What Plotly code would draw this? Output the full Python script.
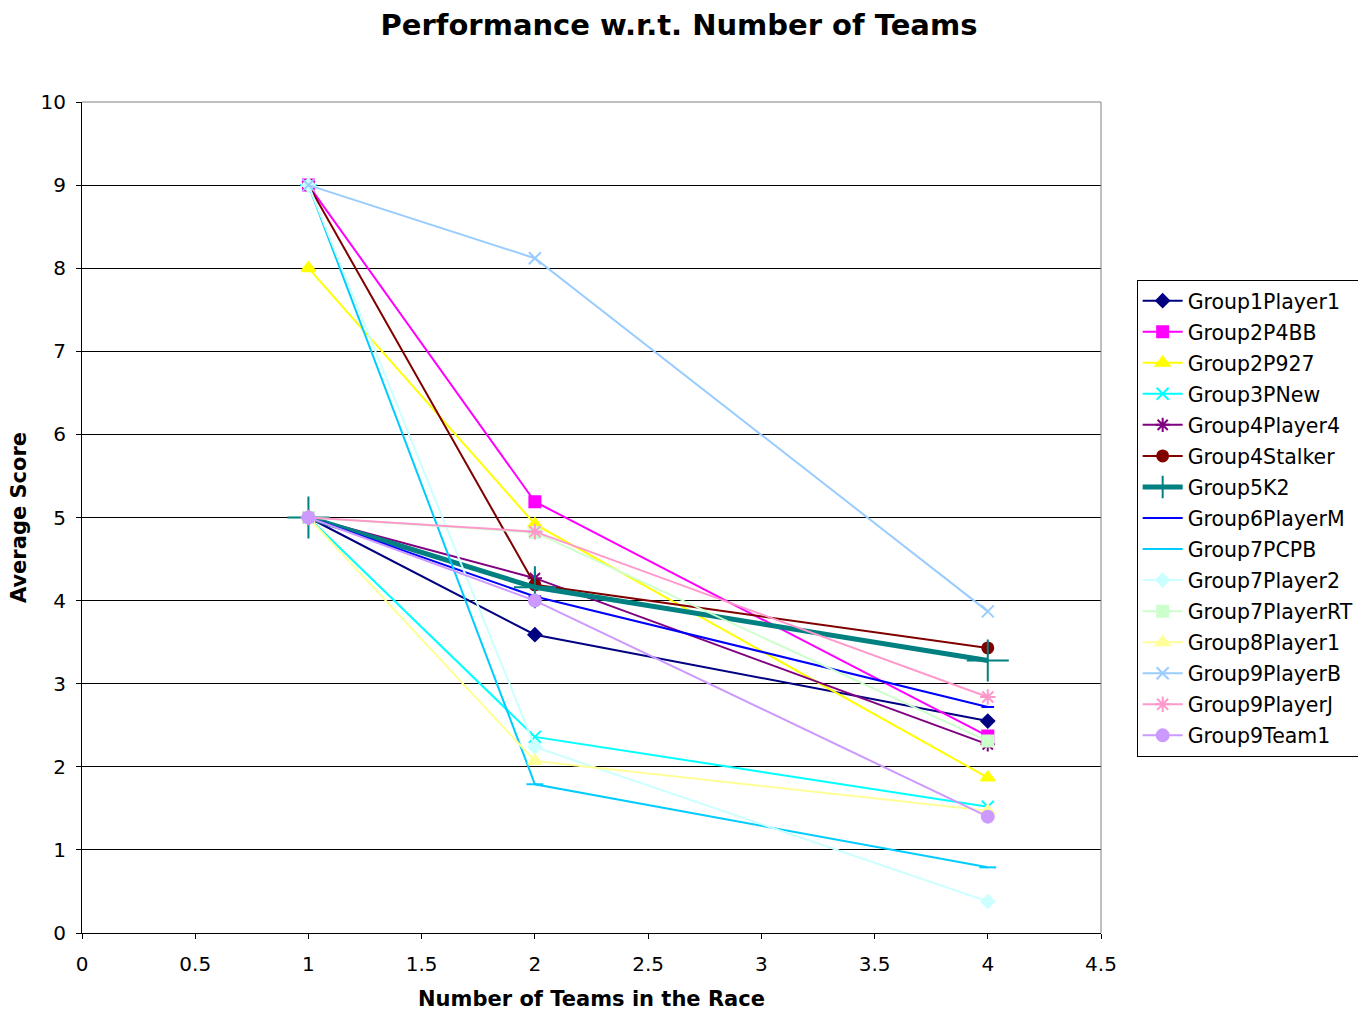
import plotly.graph_objects as go

# Number of teams in the race (x) and average score per group bot
teams = [1, 2, 4]

names = [
    "Group1Player1", "Group2P4BB", "Group2P927", "Group3PNew", "Group4Player4",
    "Group4Stalker", "Group5K2", "Group6PlayerM", "Group7PCPB", "Group7Player2",
    "Group7PlayerRT", "Group8Player1", "Group9PlayerB", "Group9PlayerJ", "Group9Team1",
]

group1_player1 = [5, 3.59, 2.55]
group2_p4bb = [9, 5.19, 2.37]
group2_p927 = [8, 4.92, 1.87]
group3_pnew = [5, 2.36, 1.52]
group4_player4 = [5, 4.27, 2.27]
group4_stalker = [9, 4.19, 3.43]
group5_k2 = [5, 4.16, 3.28]
group6_playerm = [5, 4.05, 2.72]
group7_pcpb = [9, 1.79, 0.79]
group7_player2 = [9, 2.24, 0.38]
group7_playerrt = [5, 4.82, 2.31]
group8_player1 = [5, 2.07, 1.47]
group9_playerb = [9, 8.12, 3.87]
group9_playerj = [5, 4.83, 2.84]
group9_team1 = [5, 4.0, 1.40]

series = [
    group1_player1, group2_p4bb, group2_p927, group3_pnew, group4_player4,
    group4_stalker, group5_k2, group6_playerm, group7_pcpb, group7_player2,
    group7_playerrt, group8_player1, group9_playerb, group9_playerj, group9_team1,
]

colors = [
    "#000080", "#FF00FF", "#FFFF00", "#00FFFF", "#800080",
    "#800000", "#008080", "#0000FF", "#00CCFF", "#CCFFFF",
    "#CCFFCC", "#FFFF99", "#99CCFF", "#FF99CC", "#CC99FF",
]

symbols = [
    "diamond", "square", "triangle-up", "x-thin-open", "asterisk-open",
    "circle", "cross-thin-open", "line-ew-open", "line-ew-open", "diamond",
    "square", "triangle-up", "x-thin-open", "asterisk-open", "circle",
]

sizes = [10, 11, 12, 12, 12, 11, 30, 9, 12, 10, 11, 12, 12, 13, 12]

fig = go.Figure()
for name, ys, col, sym, sz in zip(names, series, colors, symbols, sizes):
    thick = name == "Group5K2"
    fig.add_trace(go.Scatter(
        x=teams, y=ys, name=name, legendgroup=name, mode="lines+markers",
        line=dict(color=col, width=5 if thick else 2),
        marker=dict(symbol=sym, size=sz, color=col,
                    line=dict(color=col, width=2)),
    ))

# grey frame on the top and right of the plot area
for x0, y0, x1, y1 in [(0, 1, 1, 1), (1, 0, 1, 1)]:
    fig.add_shape(type="line", xref="paper", yref="paper",
                  x0=x0, y0=y0, x1=x1, y1=y1,
                  line=dict(color="#808080", width=1), layer="above")

fig.update_layout(
    width=1358, height=1011,
    margin=dict(l=82, r=257, t=102, b=78, autoexpand=False),
    paper_bgcolor="white", plot_bgcolor="white",
    font=dict(family="DejaVu Sans", size=20, color="black"),
    title=dict(text="<b>Performance w.r.t. Number of Teams</b>",
               x=0.5, xref="container", xanchor="center",
               y=0.975, yanchor="middle", font=dict(size=29)),
    xaxis=dict(range=[0, 4.5], dtick=0.5, showgrid=False, zeroline=False,
               showline=True, linecolor="black", linewidth=1,
               ticks="outside", ticklen=5, tickcolor="black",
               ticklabelstandoff=8, tickfont=dict(size=20),
               title=dict(text="<b>Number of Teams in the Race</b>",
                          font=dict(size=21), standoff=20)),
    yaxis=dict(range=[0, 10], dtick=1, showgrid=True, gridcolor="black",
               gridwidth=1, zeroline=False,
               showline=True, linecolor="black", linewidth=1,
               ticks="outside", ticklen=5, tickcolor="black",
               ticklabelstandoff=6, tickfont=dict(size=20),
               title=dict(text="<b>Average Score</b>", font=dict(size=21),
                          standoff=8)),
    legend=dict(x=1.035, xanchor="left", y=0.499, yanchor="middle",
                bordercolor="black", borderwidth=1, bgcolor="white",
                font=dict(size=20.5), itemwidth=40, tracegroupgap=1.4),
    showlegend=True,
)

fig.write_html("out.html")
